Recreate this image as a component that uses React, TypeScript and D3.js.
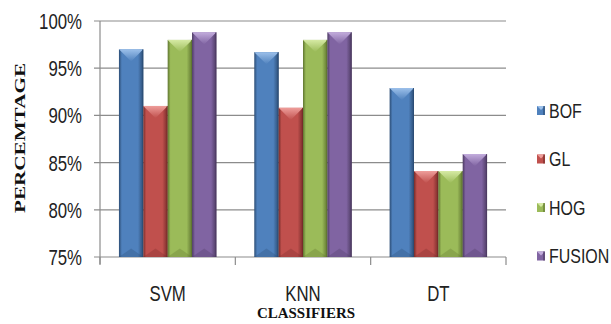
import React from 'react';
import * as d3 from 'd3';

// classifiers and feature sets
const categories = ['SVM', 'KNN', 'DT'];
const seriesNames = ['BOF', 'GL', 'HOG', 'FUSION'];

// accuracy in percent
const bofValues = [97.0, 96.7, 92.9];
const glValues = [91.0, 90.8, 84.1];
const hogValues = [98.0, 98.0, 84.1];
const fusionValues = [98.8, 98.8, 85.9];

const yTicks = [75, 80, 85, 90, 95, 100];

// office 2007 palette: base, light, dark
const palette = [
  { base: '#4F81BD', light: '#9CC0EA', dark: '#2C4D75' },
  { base: '#C0504D', light: '#EE9D9A', dark: '#772C2A' },
  { base: '#9BBB59', light: '#D6EAA4', dark: '#5F7530' },
  { base: '#8064A2', light: '#C2ACDC', dark: '#4D3B62' },
];

const W = 611;
const H = 324;
const plot = { left: 100, right: 506, top: 21, bottom: 257 };

const sans = '"Liberation Sans", Arial, sans-serif';
const serif = '"Liberation Serif", "Times New Roman", serif';

// narrow (calibri-like) text: arial squeezed horizontally
const Narrow = ({ x, y, anchor = 'start', size = 20, children }:
  { x: number; y: number; anchor?: string; size?: number; children: React.ReactNode }) => (
  <g transform={`translate(${x},${y}) scale(0.84,1.1)`}>
    <text dy="0.36em" textAnchor={anchor} fontFamily={sans} fontSize={size} fill="#222">
      {children}
    </text>
  </g>
);

const App = () => {
  const seriesValues = [bofValues, glValues, hogValues, fusionValues];

  const x0 = d3.scaleBand<string>()
    .domain(categories)
    .range([plot.left, plot.right])
    .paddingInner(0.28)
    .paddingOuter(0.14);

  const x1 = d3.scaleBand<string>()
    .domain(seriesNames)
    .range([0, x0.bandwidth()]);

  const y = d3.scaleLinear()
    .domain([75, 100])
    .range([plot.bottom, plot.top]);

  const step = (plot.right - plot.left) / categories.length;
  const catTicks = d3.range(categories.length + 1).map(i => plot.left + i * step);

  const bars: JSX.Element[] = [];
  seriesNames.forEach((name, si) => {
    const c = palette[si];
    seriesValues[si].forEach((v, ci) => {
      const bx = (x0(categories[ci]) ?? 0) + (x1(name) ?? 0);
      const bw = x1.bandwidth();
      const top = y(v);
      const bot = y(75);
      const cap = Math.min(bw / 2, (bot - top) / 2);
      bars.push(
        <g key={`${name}-${ci}`}>
          <rect x={bx} y={top} width={bw} height={bot - top} fill={`url(#body${si})`} />
          {/* top bevel */}
          <polygon
            points={`${bx},${top} ${bx + bw},${top} ${bx + bw - 3},${top + 3} ${bx + bw / 2},${top + cap} ${bx + 3},${top + 3}`}
            fill={`url(#cap${si})`}
          />
          {/* bottom bevel */}
          <polygon
            points={`${bx},${bot} ${bx + bw},${bot} ${bx + bw / 2},${bot - cap * 0.7}`}
            fill={c.dark}
            opacity={0.3}
          />
          <line x1={bx + bw - 0.5} x2={bx + bw - 0.5} y1={top} y2={bot} stroke={c.dark} strokeWidth={1} opacity={0.8} />
        </g>
      );
    });
  });

  return (
    <div style={{ position: 'absolute', left: 0, top: 0 }}>
      <svg width={W} height={H} style={{ display: 'block', background: '#fff' }}>
        <defs>
          {palette.map((c, i) => (
            <React.Fragment key={i}>
              <linearGradient id={`body${i}`} x1="0" x2="1" y1="0" y2="0">
                <stop offset="0" stopColor={c.dark} />
                <stop offset="0.12" stopColor={c.base} />
                <stop offset="0.5" stopColor={c.base} />
                <stop offset="0.78" stopColor={c.base} />
                <stop offset="1" stopColor={c.dark} />
              </linearGradient>
              <linearGradient id={`cap${i}`} x1="0" x2="0" y1="0" y2="1">
                <stop offset="0" stopColor={c.light} />
                <stop offset="1" stopColor={c.base} />
              </linearGradient>
            </React.Fragment>
          ))}
        </defs>

        {/* gridlines and y ticks */}
        {yTicks.map(t => (
          <g key={t}>
            <line x1={plot.left - 6} x2={plot.right} y1={y(t)} y2={y(t)} stroke="#8C8C8C" strokeWidth={1.2} />
            <Narrow x={82} y={y(t)} anchor="end">{t}%</Narrow>
          </g>
        ))}

        {/* y axis */}
        <line x1={plot.left} x2={plot.left} y1={plot.top} y2={plot.bottom + 7} stroke="#8C8C8C" strokeWidth={1.2} />

        {/* category ticks */}
        {catTicks.map((t, i) => (
          <line key={i} x1={t} x2={t} y1={plot.bottom} y2={plot.bottom + 8} stroke="#8C8C8C" strokeWidth={1.2} />
        ))}

        {bars}

        {/* category labels */}
        {categories.map(c => (
          <Narrow key={c} x={(x0(c) ?? 0) + x0.bandwidth() / 2} y={293} anchor="middle">{c}</Narrow>
        ))}

        {/* axis titles */}
        <text
          x={306}
          y={318}
          textAnchor="middle"
          fontFamily={serif}
          fontWeight="bold"
          fontSize={15}
          textLength={98}
          lengthAdjust="spacingAndGlyphs"
          fill="#111"
        >
          CLASSIFIERS
        </text>
        <text
          transform="translate(25,138) rotate(-90)"
          textAnchor="middle"
          fontFamily={serif}
          fontWeight="bold"
          fontSize={15}
          textLength={150}
          lengthAdjust="spacingAndGlyphs"
          fill="#111"
        >
          PERCEMTAGE
        </text>

        {/* legend */}
        {seriesNames.map((name, i) => {
          const ly = 110 + i * 48.5;
          const c = palette[i];
          return (
            <g key={name}>
              <rect x={537} y={ly - 4} width={8} height={9} fill={c.base} />
              <polygon points={`537,${ly - 4} 545,${ly - 4} 541,${ly}`} fill={c.light} />
              <rect x={543} y={ly - 4} width={2} height={9} fill={c.dark} opacity={0.6} />
              <Narrow x={549} y={ly} size={19}>{name}</Narrow>
            </g>
          );
        })}
      </svg>
    </div>
  );
};

export default App;
